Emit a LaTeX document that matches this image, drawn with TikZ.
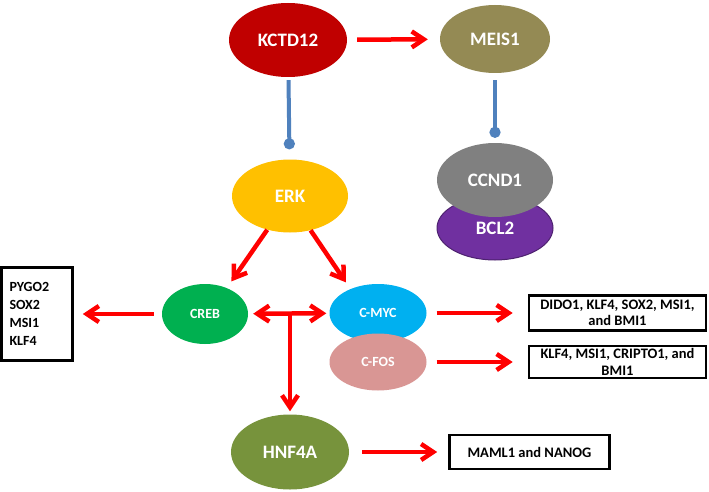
\documentclass[tikz,border=0pt]{standalone}
\usepackage{fontspec}
\setmainfont{Carlito}
\usetikzlibrary{shapes.geometric, arrows.meta, positioning, calc}
\definecolor{kctdRed}{RGB}{192, 0, 0}
\definecolor{meisOlive}{RGB}{148, 138, 84}
\definecolor{erkYellow}{RGB}{255, 192, 0}
\definecolor{ccndGray}{RGB}{128, 128, 128}
\definecolor{bclPurple}{RGB}{112, 48, 160}
\definecolor{crebGreen}{RGB}{0, 176, 80}
\definecolor{mycCyan}{RGB}{0, 176, 240}
\definecolor{fosPink}{RGB}{217, 150, 148}
\definecolor{hnfGreen}{RGB}{119, 147, 60}
\definecolor{inhibBlue}{RGB}{79, 129, 189}
\definecolor{arrowRed}{RGB}{255, 0, 0}

\begin{document}
\begin{tikzpicture}[x=1pt, y=-1pt,
        big/.style={ellipse, minimum width=118pt, minimum height=74pt, inner sep=0pt, text=white, font=\fontsize{19}{22}\selectfont\bfseries},
        small/.style={ellipse, minimum width=96pt, minimum height=60pt, inner sep=0pt, text=white, font=\fontsize{14}{16}\selectfont\bfseries},
        genebox/.style={rectangle, draw=black, line width=2.5pt, align=center, inner sep=2pt, font=\fontsize{14.5}{16.5}\selectfont\bfseries},
        arrow/.style={>={Straight Barb[length=12pt, width=16pt]}, ->, line width=4.5pt, arrowRed},
        inhibit/.style={-{Circle[length=11pt]}, line width=4pt, inhibBlue}
    ]
        \useasboundingbox (0,0) rectangle (709,492);
        \fill[white] (0,0) rectangle (709,492);

        % Upstream regulators
        \node[big, fill=kctdRed] (kctd) at (288, 40) {KCTD12};
        \node[big, fill=meisOlive, minimum width=110pt, minimum height=68pt] (meis) at (495, 39) {MEIS1};
        \node[big, fill=erkYellow, minimum width=116pt, minimum height=73pt] (erk) at (290, 196) {ERK};
        \node[big, fill=bclPurple, draw=bclPurple!70!black, line width=1pt, minimum width=116pt, minimum height=64pt] (bcl) at (495, 228) {BCL2};
        \node[big, fill=ccndGray, minimum width=116pt] (ccnd) at (495, 180) {CCND1};

        % Transcription factors
        \node[small, fill=crebGreen, minimum width=86pt] (creb) at (205, 314) {CREB};
        \node[small, fill=mycCyan, minimum width=97pt, minimum height=58pt] (myc) at (378, 313) {C-MYC};
        \node[small, fill=fosPink, minimum width=97pt, minimum height=57pt] (fos) at (378, 362) {C-FOS};
        \node[big, fill=hnfGreen, minimum height=75pt] (hnf) at (290, 452) {HNF4A};

        % Target genes
        \node[genebox, left=88pt of creb, text width=55pt, align=left, inner xsep=8pt, minimum height=93pt, font=\fontsize{14}{18}\selectfont\bfseries] (stem) {PYGO2\\SOX2\\MSI1\\KLF4};
        \node[genebox, right=101pt of myc, minimum width=177pt, minimum height=35pt] (mycbox) {DIDO1, KLF4, SOX2, MSI1,\\and BMI1};
        \node[genebox, right=101pt of fos, minimum width=177pt, minimum height=32pt] (fosbox) {KLF4, MSI1, CRIPTO1, and\\BMI1};
        \node[genebox, right=99pt of hnf, minimum width=160pt, minimum height=34pt] (hnfbox) {MAML1 and NANOG};

        \draw[arrow, shorten <=10pt, shorten >=12pt] (kctd) -- (meis);
        \draw[inhibit, shorten <=3pt, shorten >=10pt] (kctd) -- (erk);
        \draw[inhibit, shorten <=7pt, shorten >=5pt] (meis) -- (ccnd);
        \draw[arrow, shorten >=8pt] (erk.236) -- (creb.50);
        \draw[arrow, shorten >=8pt] (erk.301) -- (myc.139);
        \draw[arrow, shorten <=8pt, shorten >=9pt] (creb) -- (stem);
        \draw[arrow, <->, shorten <=5pt, shorten >=3pt] (creb) -- (myc);
        \coordinate (tee) at (hnf.north |- creb.east);
        \draw[arrow, shorten >=3pt] (tee) -- (hnf);
        \draw[arrow, shorten <=10pt, shorten >=15pt] (myc) -- (mycbox);
        \draw[arrow, shorten <=10pt, shorten >=15pt] (fos) -- (fosbox);
        \draw[arrow, shorten <=13pt, shorten >=11pt] (hnf) -- (hnfbox);
    \end{tikzpicture}
\end{document}
